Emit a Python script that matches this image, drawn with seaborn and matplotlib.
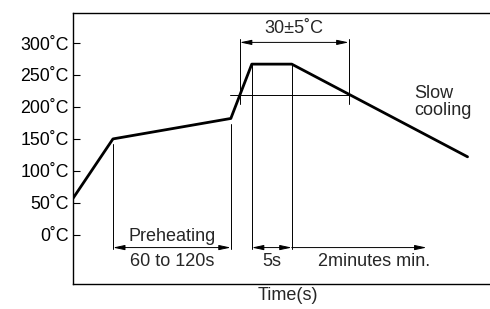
import matplotlib
matplotlib.use("Agg")
import matplotlib.pyplot as plt
import seaborn as sns
import pandas as pd

# Data (time in arbitrary units, temperature in °C)
times = [0, 40, 158, 179, 219, 395]
temps = [57, 150, 182, 267, 267, 122]
ytick_vals = [0, 50, 100, 150, 200, 250, 300]
ytick_labels = ["0˚C", "50˚C", "100˚C", "150˚C", "200˚C", "250˚C", "300˚C"]

sns.set_style("ticks")
plt.rcParams["font.family"] = ["Liberation Sans", "DejaVu Sans"]

fig = plt.figure(figsize=(4.9, 3.09), dpi=100)
ax = fig.add_axes([73/490, 1-284/309, 1-73/490+0.05, (284-13)/309])

df = pd.DataFrame({"t": times, "T": temps})
sns.lineplot(data=df, x="t", y="T", ax=ax, color="black", linewidth=2.0, sort=False)

ax.set_xlim(0, 442)
ax.set_ylim(-77, 347)
ax.set_yticks(ytick_vals)
ax.set_yticklabels(ytick_labels, fontsize=12.8)
ax.set_xticks([])
ax.tick_params(axis="y", direction="in", length=5, width=0.8, pad=3, colors="black")
for s in ["left", "bottom", "top", "right"]:
    ax.spines[s].set_linewidth(1.0)
    ax.spines[s].set_color("black")
ax.set_ylabel("")
ax.set_xlabel("")

lw = 0.7
# vertical guide lines
ax.plot([40, 40], [142, -23], color="black", lw=lw)
ax.plot([158, 158], [173, -23], color="black", lw=lw)
ax.plot([179, 179], [267, -23], color="black", lw=lw)
ax.plot([219, 219], [267, -23], color="black", lw=lw)
# bracket for 30±5˚C
ax.plot([167, 167], [306, 205], color="black", lw=lw)
ax.plot([276, 276], [306, 205], color="black", lw=lw)
ax.plot([157, 277], [219, 219], color="black", lw=lw)

ap2 = dict(arrowstyle="<|-|>,head_length=0.7,head_width=0.15", color="black", lw=lw,
           shrinkA=0, shrinkB=0, mutation_scale=10)
ap1 = dict(arrowstyle="<|-,head_length=0.7,head_width=0.15", color="black", lw=lw,
           shrinkA=0, shrinkB=0, mutation_scale=10)
ax.annotate("", xy=(167, 301), xytext=(276, 301), arrowprops=ap2)
ax.annotate("", xy=(40, -20), xytext=(158, -20), arrowprops=ap2)
ax.annotate("", xy=(179, -20), xytext=(219, -20), arrowprops=ap2)
ax.annotate("", xy=(219, -20), xytext=(354, -20), arrowprops=ap1)

fs = 13
ax.text(221, 322, "30±5˚C", ha="center", va="center", fontsize=fs)
ax.text(342, 208, "Slow\ncooling", ha="left", va="center", fontsize=fs, linespacing=1.0)
ax.text(99, -3, "Preheating", ha="center", va="center", fontsize=fs)
ax.text(99, -42, "60 to 120s", ha="center", va="center", fontsize=fs)
ax.text(199, -42, "5s", ha="center", va="center", fontsize=fs)
ax.text(301, -42, "2minutes min.", ha="center", va="center", fontsize=fs)

fig.text(288/490, 1-296/309, "Time(s)", ha="center", va="center", fontsize=fs)

fig.savefig("out.png", dpi=100)
